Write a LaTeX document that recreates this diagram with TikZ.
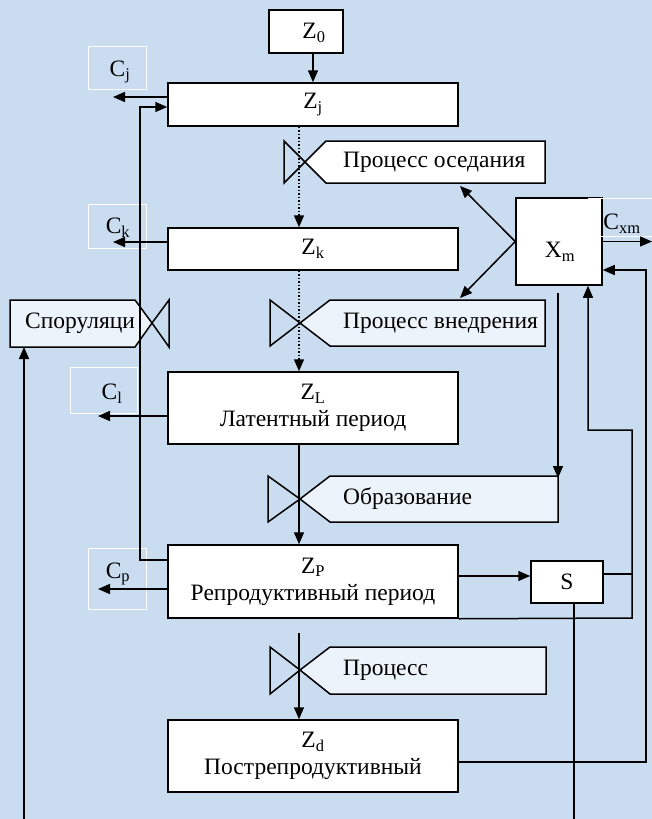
\documentclass[tikz,border=0pt]{standalone}
\usepackage{fontspec}
\setmainfont{Liberation Serif}
\usetikzlibrary{arrows.meta}
\definecolor{bgblue}{RGB}{202,220,240}
\definecolor{lblfill}{RGB}{236,243,251}
\newcommand{\bigfs}{\fontsize{23.5}{27}\selectfont}

\begin{document}
\begin{tikzpicture}[x=1pt,y=-1pt,>={Triangle[length=12pt,width=10pt]},
	box/.style={draw,fill=white,line width=1.5pt,inner sep=0pt,align=center,font=\bigfs},
	txt/.style={inner sep=0pt,font=\bigfs},
	flow/.style={->,line width=1.5pt},
	lbox/.style={draw,fill=lblfill,line width=1.5pt}]
	\fill[bgblue] (0,0) rectangle (652,819);
	\useasboundingbox (0,0) rectangle (652,819);
	% main chain of states
	\node[box,minimum width=74pt,minimum height=43pt] (z0) at (306,31.5) {};
	\node[txt] (z0t) at (314,33) {Z\textsubscript{0}};
	\node[box,minimum width=290pt,minimum height=43pt] (zj) at (313,104.5) {Z\textsubscript{j}};
	\node[box,minimum width=290pt,minimum height=42pt] (zk) at (313,249) {Z\textsubscript{k}};
	\node[box,minimum width=290pt,minimum height=72pt] (zl) at (313,408) {Z\textsubscript{L}\\Латентный период};
	\node[box,minimum width=290pt,minimum height=73pt] (zp) at (313,581.5) {Z\textsubscript{P}\\Репродуктивный период};
	\node[box,minimum width=290pt,minimum height=72pt] (zd) at (313,756) {Z\textsubscript{d}\\Пострепродуктивный};
	\node[box,minimum width=86pt,minimum height=87pt] (xm) at (559,241.5) {};
	\node[txt] (xmt) at (560,252) {X\textsubscript{m}};
	\node[box,minimum width=72pt,minimum height=42pt] (s) at (567,582) {S};
	% outflow labels
	\draw[white,line width=0.6pt] (88,46) rectangle (146,89);
	\draw[white,line width=0.6pt] (88,204) rectangle (146,248);
	\draw[white,line width=0.6pt] (70,367) rectangle (137,413);
	\draw[white,line width=0.6pt] (88,548) rectangle (146,609);
	\draw[white,line width=0.6pt] (588,198) rectangle (660,236);
	\node[txt] (cj) at (120,72) {C\textsubscript{j}};
	\node[txt] (ck) at (118,228) {C\textsubscript{k}};
	\node[txt] (cl) at (112,394) {C\textsubscript{l}};
	\node[txt] (cp) at (118,574) {C\textsubscript{p}};
	\node[txt] (cxm) at (622,224) {C\textsubscript{xm}};
	% valves with process labels
	\draw[lbox,fill=white] (305,162) -- (326,141) -- (545,141) -- (545,183) -- (326,183) -- cycle;
	\draw[line width=1.5pt] (305,162) -- (284,141) -- (284,183) -- cycle;
	\node[txt,anchor=west] (pos) at (343,162) {Процесс оседания};
	\draw[lbox] (300,323) -- (330,300) -- (545,300) -- (545,346) -- (330,346) -- cycle;
	\draw[line width=1.5pt] (300,323) -- (270,300) -- (270,346) -- cycle;
	\node[txt,anchor=west] (pvn) at (343,323) {Процесс внедрения};
	\draw[lbox] (300,499) -- (330,476) -- (558,476) -- (558,522) -- (330,522) -- cycle;
	\draw[line width=1.5pt] (300,499) -- (268,476) -- (268,522) -- cycle;
	\node[txt,anchor=west] (pob) at (343,499) {Образование};
	\draw[lbox] (300,670) -- (330,647) -- (546,647) -- (546,694) -- (330,694) -- cycle;
	\draw[line width=1.5pt] (300,670) -- (270,647) -- (270,694) -- cycle;
	\node[txt,anchor=west] (ppr) at (343,670) {Процесс};
	\draw[lbox] (10,300) -- (135,300) -- (152,323) -- (135,347) -- (10,347) -- cycle;
	\draw[line width=1.5pt] (152,323) -- (169,300) -- (169,347) -- cycle;
	\node[txt,anchor=west] (psp) at (25,323) {Споруляци};
	% helper points
	\coordinate (ax) at (299,0);
	\coordinate (pd) at (299,633);
	\coordinate (cjend) at (113,97);
	\coordinate (ckend) at (113,242);
	\coordinate (clend) at (98,416);
	\coordinate (cpend) at (98,589);
	\coordinate (fb) at (140,560);
	\coordinate (fbtop) at (140,107);
	\coordinate (xup) at (460,186);
	\coordinate (xdn) at (460,298);
	\coordinate (ob) at (558,293);
	\coordinate (obend) at (558,478);
	\coordinate (cxmend) at (652,241.5);
	\coordinate (rt1) at (646,762);
	\coordinate (rt2) at (646,270);
	\coordinate (r1) at (632,618);
	\coordinate (r2) at (632,430);
	\coordinate (r3) at (588,430);
	\coordinate (sa) at (0,576);
	\coordinate (sb) at (0,574);
	\coordinate (sd) at (574,819);
	\coordinate (spb) at (24,819);
	\coordinate (spt) at (24,347);
	% connectors
	\draw[flow] (z0.south -| zj.north) -- (zj.north);
	\draw[flow,dotted] (zj.south -| ax) -- (zk.north -| ax);
	\draw[flow,dotted] (zk.south -| ax) -- (zl.north -| ax);
	\draw[flow] (zl.south -| ax) -- (zp.north -| ax);
	\draw[flow] (pd) -- (zd.north -| pd);
	\draw[flow] (zj.west |- cjend) -- (cjend);
	\draw[flow] (zk.west |- ckend) -- (ckend);
	\draw[flow] (zl.west |- clend) -- (clend);
	\draw[flow] (zp.west |- cpend) -- (cpend);
	\draw[flow] (zp.west |- fb) -- (fb) -- (fbtop) -- (zj.west |- fbtop);
	\draw[flow] (xm.west) -- (xup);
	\draw[flow] (xm.west) -- (xdn);
	\draw[flow] (ob) -- (obend);
	\draw[flow] (xm.east) -- (cxmend);
	\draw[flow] (zd.east |- rt1) -- (rt1) -- (rt2) -- (xm.east |- rt2);
	\draw[flow] (zp.south east) -- (r1) -- (r2) -- (r3) -- (xm.south -| r3);
	\draw[flow] (zp.east |- sa) -- (s.west |- sa);
	\draw[line width=1.5pt] (s.east |- sb) -- (r1 |- sb);
	\draw[line width=1.5pt] (s.south -| sd) -- (sd);
	\draw[flow] (spb) -- (spt);
\end{tikzpicture}
\end{document}
